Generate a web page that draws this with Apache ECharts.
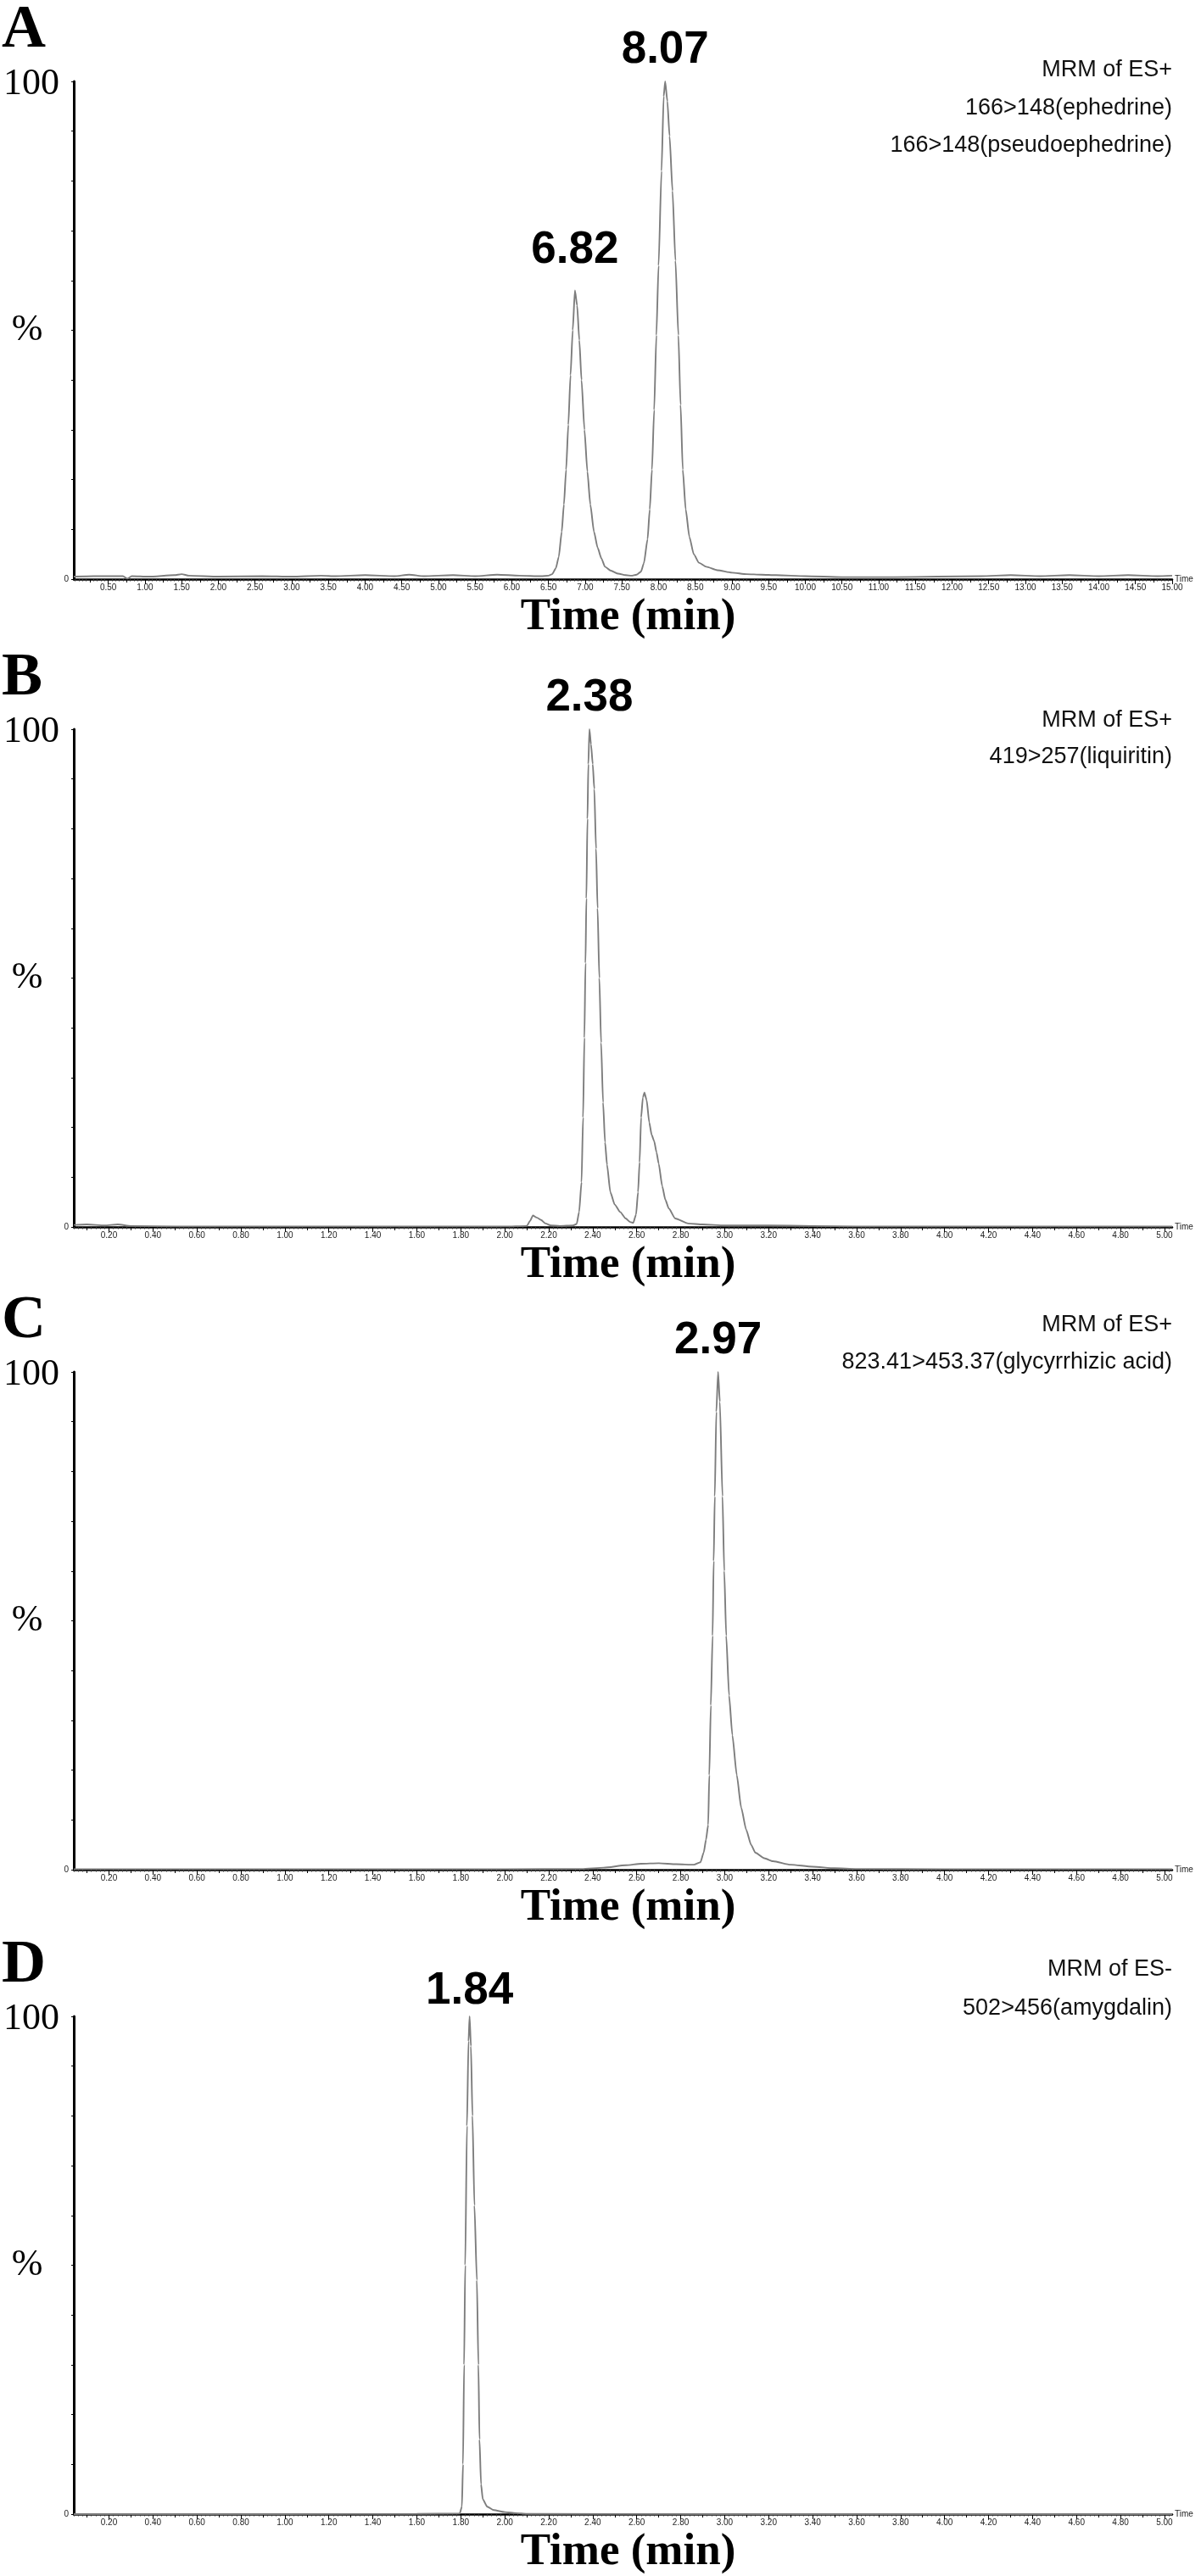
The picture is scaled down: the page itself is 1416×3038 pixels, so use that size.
<!DOCTYPE html>
<html lang="en">
  <head>
    <meta charset="UTF-8" />
    <title>MRM chromatograms</title>
    <script src="https://cdn.jsdelivr.net/npm/echarts@6.0.0/dist/echarts.min.js"></script>
    <style>
      body { margin: 0; background: #fff; }
    </style>
  </head>
  <body>
    <div id="main" style="width: 1416px; height: 3038px"></div>
    <script type="text/javascript">
      // --- data: [time (min), relative intensity (%)] ---
      const traceA = [
        [0.03, 0.5], [0.3, 0.6], [0.7, 0.6], [0.76, 0.1], [0.82, 0.6], [1.05, 0.5],
        [1.4, 0.8], [1.5, 1.0], [1.6, 0.7], [2.0, 0.5], [2.6, 0.6], [3.0, 0.5],
        [3.4, 0.7], [3.6, 0.6], [4.0, 0.8], [4.4, 0.6], [4.6, 0.9], [4.8, 0.6],
        [5.2, 0.8], [5.5, 0.6], [5.8, 0.9], [6.1, 0.7], [6.4, 0.6], [6.5, 0.7],
        [6.55, 1.0], [6.6, 2.2], [6.64, 4.5], [6.68, 9.5], [6.71, 15], [6.74, 22],
        [6.77, 31], [6.8, 41], [6.83, 50], [6.86, 58], [6.89, 55], [6.92, 48],
        [6.95, 40], [6.99, 30], [7.03, 21.6], [7.07, 15], [7.12, 9.5], [7.17, 6.3],
        [7.22, 4.2], [7.27, 2.5], [7.35, 1.7], [7.45, 1.1], [7.55, 0.8], [7.63, 0.7],
        [7.7, 0.9], [7.76, 1.5], [7.8, 3.2], [7.85, 8], [7.88, 14], [7.91, 22],
        [7.94, 34], [7.97, 49], [8.0, 63], [8.04, 82], [8.07, 97], [8.09, 100],
        [8.12, 96], [8.15, 89], [8.19, 78], [8.23, 64], [8.27, 49], [8.3, 35],
        [8.33, 22], [8.37, 14], [8.42, 8.5], [8.48, 5], [8.55, 3.3], [8.65, 2.5],
        [8.8, 1.8], [9.0, 1.3], [9.2, 1.0], [9.4, 0.9], [9.6, 0.8], [10.0, 0.6],
        [10.5, 0.4], [11.2, 0.4], [11.8, 0.5], [12.4, 0.6], [12.8, 0.8], [13.2, 0.6],
        [13.6, 0.8], [14.0, 0.6], [14.4, 0.8], [14.8, 0.6], [15.0, 0.7]
      ];
      const traceB = [
        [0.04, 0.4], [0.1, 0.5], [0.18, 0.3], [0.24, 0.5], [0.3, 0.2], [0.5, 0.1],
        [1.0, 0.1], [1.5, 0.1], [2.0, 0.1], [2.1, 0.2], [2.115, 1.2], [2.128, 2.3],
        [2.145, 1.9], [2.165, 1.4], [2.185, 0.7], [2.21, 0.3], [2.25, 0.2], [2.31, 0.3],
        [2.327, 0.6], [2.338, 3], [2.349, 9], [2.356, 22], [2.362, 38], [2.367, 53],
        [2.371, 66], [2.376, 82], [2.38, 93], [2.385, 100], [2.392, 97], [2.4, 93],
        [2.407, 88], [2.415, 76], [2.422, 64], [2.43, 50], [2.438, 37], [2.447, 25],
        [2.456, 17], [2.465, 12.5], [2.48, 7], [2.5, 4.5], [2.525, 3], [2.55, 1.7],
        [2.57, 1.0], [2.584, 0.8], [2.597, 2.5], [2.606, 7], [2.613, 13], [2.62, 22],
        [2.628, 26], [2.635, 27], [2.645, 25.5], [2.657, 21], [2.668, 18.5],
        [2.679, 17.3], [2.69, 15], [2.7, 12.7], [2.716, 8.2], [2.73, 5.5], [2.746, 3.7],
        [2.775, 1.7], [2.834, 0.7], [2.9, 0.5], [3.0, 0.3], [3.2, 0.3], [3.4, 0.2],
        [3.6, 0.1], [4.0, 0.1], [4.5, 0.1], [5.035, 0.1]
      ];
      const traceC = [
        [0.04, 0.1], [1.0, 0.1], [2.0, 0.1], [2.35, 0.15], [2.45, 0.4], [2.55, 0.9],
        [2.62, 1.2], [2.7, 1.3], [2.78, 1.1], [2.86, 1.0], [2.89, 1.5], [2.905, 3.5],
        [2.915, 6], [2.925, 9], [2.93, 19], [2.937, 33], [2.945, 47], [2.95, 62],
        [2.955, 75], [2.962, 92], [2.97, 100], [2.978, 94], [2.99, 75], [2.998, 60],
        [3.007, 47], [3.02, 35], [3.035, 27], [3.055, 19], [3.075, 12.5], [3.098, 8],
        [3.12, 5], [3.14, 3.4], [3.18, 2.3], [3.22, 1.7], [3.3, 1.0], [3.4, 0.6],
        [3.5, 0.3], [3.6, 0.15], [4.0, 0.1], [5.035, 0.1]
      ];
      const traceD = [
        [0.04, 0], [1.0, 0], [1.6, 0.05], [1.795, 0.1], [1.805, 1.5], [1.81, 10],
        [1.815, 30], [1.82, 50], [1.828, 78], [1.835, 95], [1.84, 100], [1.846, 94],
        [1.853, 80], [1.862, 62], [1.873, 47], [1.88, 30], [1.885, 15], [1.892, 6],
        [1.9, 3], [1.92, 1.5], [1.95, 0.8], [2.0, 0.4], [2.05, 0.2], [2.1, 0.05],
        [3.0, 0], [5.035, 0]
      ];

      // peak apex + retention-time label
      const peaksA = [{ rt: "6.82", t: 6.86, h: 58 }, { rt: "8.07", t: 8.09, h: 100 }];
      const peaksB = [{ rt: "2.38", t: 2.385, h: 100 }];
      const peaksC = [{ rt: "2.97", t: 2.97, h: 100 }];
      const peaksD = [{ rt: "1.84", t: 1.84, h: 100 }];

      // tick labels
      const ticksA = [
        "0.50", "1.00", "1.50", "2.00", "2.50", "3.00", "3.50", "4.00", "4.50", "5.00",
        "5.50", "6.00", "6.50", "7.00", "7.50", "8.00", "8.50", "9.00", "9.50", "10.00",
        "10.50", "11.00", "11.50", "12.00", "12.50", "13.00", "13.50", "14.00", "14.50", "15.00"
      ];
      const ticks5 = [
        "0.20", "0.40", "0.60", "0.80", "1.00", "1.20", "1.40", "1.60", "1.80", "2.00",
        "2.20", "2.40", "2.60", "2.80", "3.00", "3.20", "3.40", "3.60", "3.80", "4.00",
        "4.20", "4.40", "4.60", "4.80", "5.00"
      ];

      const letters = ["A", "B", "C", "D"];
      const channelsA = ["MRM of ES+", "166>148(ephedrine)", "166>148(pseudoephedrine)"];
      const channelsB = ["MRM of ES+", "419>257(liquiritin)"];
      const channelsC = ["MRM of ES+", "823.41>453.37(glycyrrhizic acid)"];
      const channelsD = ["MRM of ES-", "502>456(amygdalin)"];

      // --- layout ---
      const plotLeft = 87;
      const plotRight = 1382;
      const plotH = 587;
      const panelTop = [96, 860, 1618, 2378];
      const channelOffsets = [[-13, 32, 76], [-10, 33], [-55, -11], [-55, -9]];
      const labelGap = { "6.82": 21, "1.84": 3 };
      const serif = "'Liberation Serif', 'DejaVu Serif', serif";
      const sans = "'Liberation Sans', Arial, sans-serif";
      const lineColor = "#7d7d7d";

      function stepTicks(min, max, step, skip) {
        const out = [];
        for (let k = Math.ceil(min / step - 1e-9); k * step <= max + 1e-9; k++) {
          const v = +(k * step).toFixed(3);
          if (!skip.some((s) => Math.abs(s - v) < 1e-6)) out.push(v);
        }
        return out;
      }

      const panels = [
        { trace: traceA, peaks: peaksA, labels: ticksA, range: [0.03, 15.0], mid: 0.25, small: 0.05, channels: channelsA },
        { trace: traceB, peaks: peaksB, labels: ticks5, range: [0.04, 5.035], mid: 0.1, small: 0.02, channels: channelsB },
        { trace: traceC, peaks: peaksC, labels: ticks5, range: [0.04, 5.035], mid: 0.1, small: 0.02, channels: channelsC },
        { trace: traceD, peaks: peaksD, labels: ticks5, range: [0.04, 5.035], mid: 0.1, small: 0.02, channels: channelsD }
      ];

      const grid = [];
      const xAxis = [];
      const yAxis = [];
      const series = [];
      const graphic = [];

      panels.forEach((p, i) => {
        const top = panelTop[i];
        const base = top + plotH;
        const major = p.labels.map(Number);
        const mid = stepTicks(p.range[0], p.range[1], p.mid, major);
        const small = stepTicks(p.range[0], p.range[1], p.small, major.concat(mid));

        grid.push({ left: plotLeft, width: plotRight - plotLeft, top: top, height: plotH });

        const xBase = {
          type: "value", gridIndex: i, position: "bottom",
          min: p.range[0], max: p.range[1], splitLine: { show: false }
        };
        xAxis.push(Object.assign({}, xBase, {
          axisLine: { lineStyle: { color: "#000", width: 2.5 } },
          axisTick: { customValues: major, length: 6, lineStyle: { color: "#000", width: 1 } },
          axisLabel: {
            customValues: major, formatter: (v) => v.toFixed(2),
            fontSize: 10, fontFamily: sans, color: "#222", margin: 5
          }
        }));
        xAxis.push(Object.assign({}, xBase, {
          axisLine: { show: false },
          axisTick: { customValues: mid, length: 4, lineStyle: { color: "#000", width: 1 } },
          axisLabel: { show: false }
        }));
        xAxis.push(Object.assign({}, xBase, {
          axisLine: { show: false },
          axisTick: { customValues: small, length: 2.5, lineStyle: { color: "#333", width: 1 } },
          axisLabel: { show: false }
        }));

        yAxis.push({
          type: "value", gridIndex: i, min: 0, max: 100, interval: 10,
          splitLine: { show: false },
          axisLine: { show: true, lineStyle: { color: "#000", width: 3 } },
          axisTick: { show: true, length: 3, lineStyle: { color: "#000", width: 1 } },
          axisLabel: {
            formatter: (v) => (v === 0 ? "0" : ""),
            fontSize: 10, fontFamily: sans, color: "#222", margin: 6
          }
        });

        series.push({
          type: "line", xAxisIndex: i * 3, yAxisIndex: i,
          data: p.trace, showSymbol: false, symbol: "none",
          smooth: 0.2, smoothMonotone: "x",
          lineStyle: { color: lineColor, width: 1.9 },
          markPoint: {
            symbol: "circle", symbolSize: 0, silent: true,
            data: p.peaks.map((pk) => ({
              coord: [pk.t, pk.h],
              label: {
                show: true, formatter: pk.rt, position: "top",
                distance: labelGap[pk.rt] !== undefined ? labelGap[pk.rt] : 10,
                fontSize: 53, fontWeight: "bold", fontFamily: sans, color: "#000"
              }
            }))
          }
        });

        // panel letter, 100 / % marks, channel text, axis titles
        graphic.push({
          type: "text", left: 2, top: top - 60 - 36,
          style: { text: letters[i], font: "bold 72px " + serif, fill: "#000" }
        });
        graphic.push({
          type: "text", x: 70, y: top + 3,
          style: { text: "100", font: "44px " + serif, fill: "#000", align: "right", verticalAlign: "middle" }
        });
        graphic.push({
          type: "text", x: 32, y: top + plotH / 2,
          style: { text: "%", font: "44px " + serif, fill: "#000", align: "center", verticalAlign: "middle" }
        });
        p.channels.forEach((txt, k) => {
          graphic.push({
            type: "text", x: plotRight, y: top + channelOffsets[i][k],
            style: { text: txt, font: "27px " + sans, fill: "#111", align: "right", verticalAlign: "middle" }
          });
        });
        graphic.push({
          type: "text", x: (plotLeft + plotRight) / 2 + 6, y: base + 45,
          style: { text: "Time (min)", font: "bold 53px " + serif, fill: "#000", align: "center", verticalAlign: "middle" }
        });
        graphic.push({
          type: "text", x: plotRight + 3, y: base,
          style: { text: "Time", font: "10px " + sans, fill: "#222", align: "left", verticalAlign: "middle" }
        });
      });

      let options = {
        animation: false,
        backgroundColor: "#fff",
        grid: grid,
        xAxis: xAxis,
        yAxis: yAxis,
        series: series,
        graphic: graphic
      };

      let myChart = echarts.init(document.getElementById("main"));
      myChart.setOption(options);
    </script>
  </body>
</html>
